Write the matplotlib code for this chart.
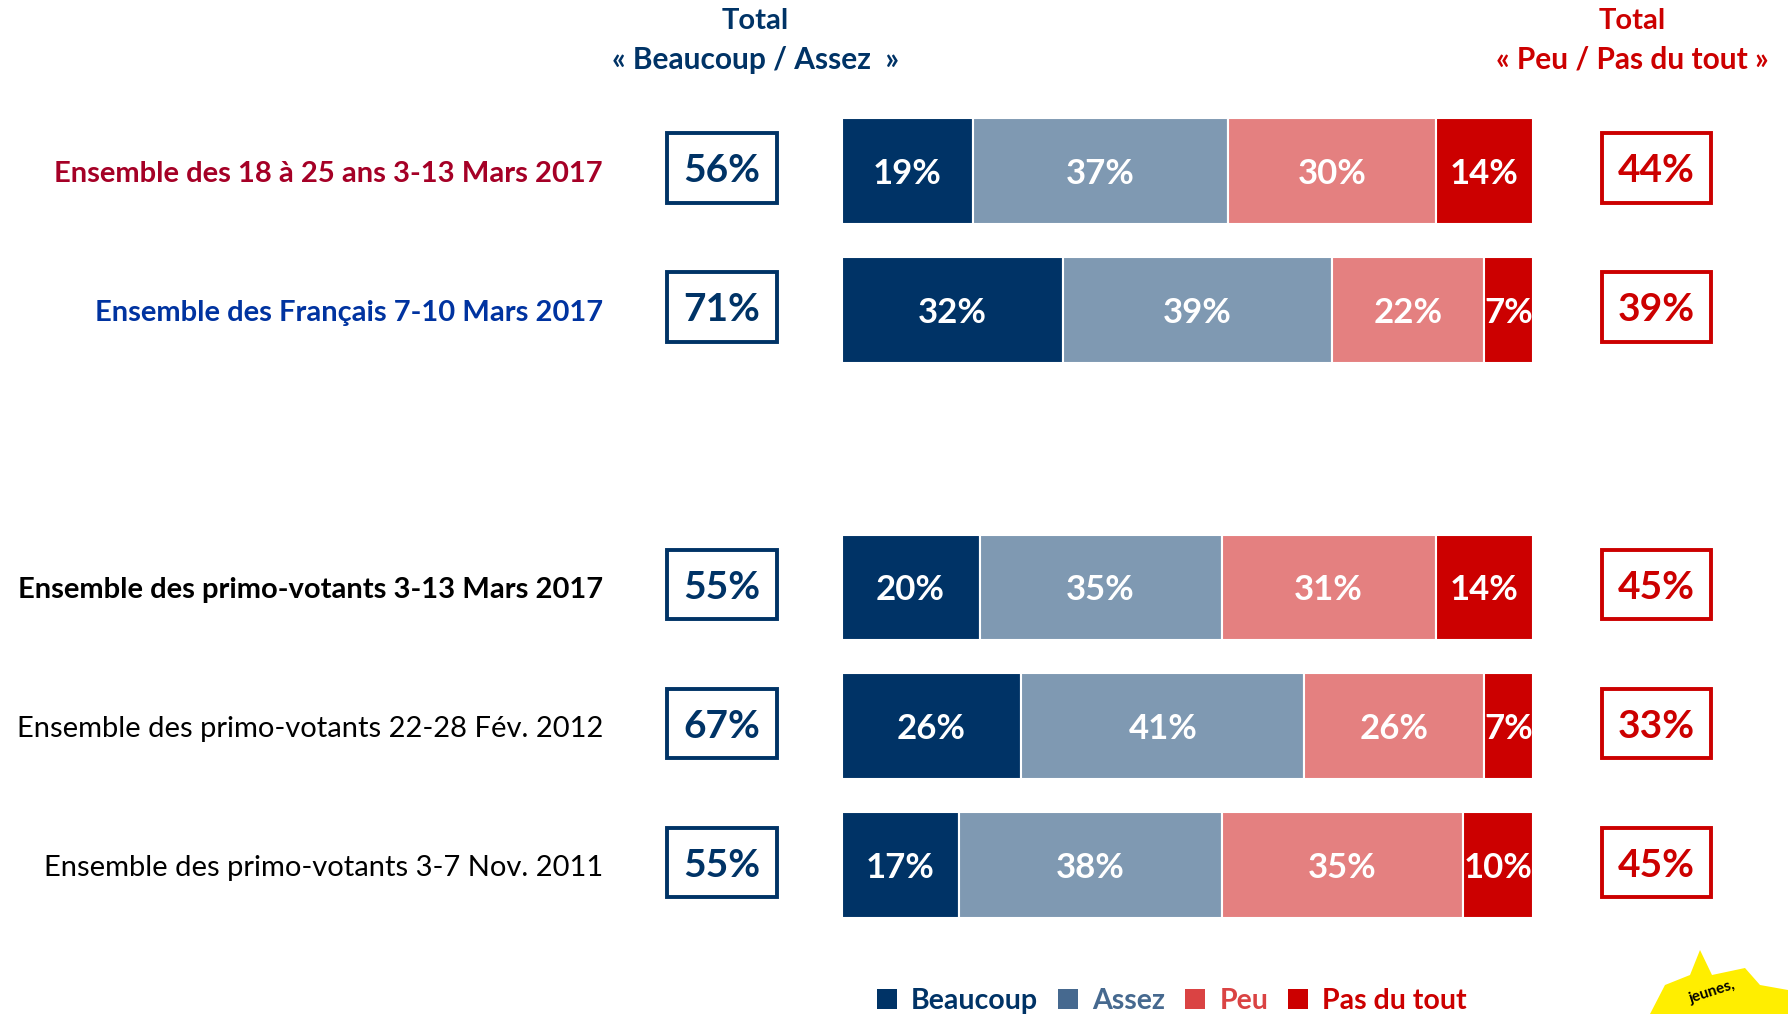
import matplotlib
matplotlib.use('Agg')
import matplotlib.pyplot as plt
from matplotlib.patches import Rectangle, Patch, Polygon

# Data
rows = ['Ensemble des 18 à 25 ans 3-13 Mars 2017',
        'Ensemble des Français 7-10 Mars 2017',
        'Ensemble des primo-votants 3-13 Mars 2017',
        'Ensemble des primo-votants 22-28 Fév. 2012',
        'Ensemble des primo-votants 3-7 Nov. 2011']
row_pos = [0, 1, 3, 4, 5]
beaucoup = [19, 32, 20, 26, 17]
assez = [37, 39, 35, 41, 38]
peu = [30, 22, 31, 26, 35]
pas_du_tout = [14, 7, 14, 7, 10]
total_pos = [56, 71, 55, 67, 55]
total_neg = [44, 39, 45, 33, 45]

series = ['Beaucoup', 'Assez', 'Peu', 'Pas du tout']
bar_colors = ['#003366', '#7f99b2', '#e48080', '#cc0000']
legend_colors = ['#003366', '#46698f', '#da4343', '#cc0000']
navy = '#003366'
red = '#cc0000'

row_colors = ['#a50026', '#0033a0', 'black', 'black', 'black']
row_weights = ['bold', 'bold', 'bold', 'normal', 'normal']

W, H = 1788, 1014
fig = plt.figure(figsize=(W / 100, H / 100), dpi=100)
fig.patch.set_facecolor('white')

# bar area in pixels
x0, x1 = 841.5, 1532.5
ytop, ybot = 101.5, 934.5
ax = fig.add_axes([x0 / W, 1 - ybot / H, (x1 - x0) / W, (ybot - ytop) / H])
ax.set_xlim(0, 100)
ax.set_ylim(5.5, -0.5)
ax.axis('off')

font = ['Lato', 'DejaVu Sans']

values = [beaucoup, assez, peu, pas_du_tout]
left = [0] * len(rows)
for vals, col in zip(values, bar_colors):
    bars = ax.barh(row_pos, vals, left=left, height=0.76, color=col,
                   edgecolor='white', linewidth=1.5)
    for b, v in zip(bars, vals):
        ax.text(b.get_x() + b.get_width() / 2, b.get_y() + b.get_height() / 2 + 0.02,
                f'{v}%', ha='center', va='center', color='white',
                fontsize=25, fontweight='bold', family=font)
    left = [l + v for l, v in zip(left, vals)]

# row labels
for y, lab, c, w in zip(row_pos, rows, row_colors, row_weights):
    ax.text(-34.5, y + 0.02, lab, ha='right', va='center', color=c,
            fontsize=21, fontweight=w, family=font, clip_on=False)

# total boxes
bw, bh = 15.8, 0.5
for y, tp, tn in zip(row_pos, total_pos, total_neg):
    for cx, val, col in [(-17.3, tp, navy), (117.9, tn, red)]:
        ax.add_patch(Rectangle((cx - bw / 2, y - 0.02 - bh / 2), bw, bh,
                               facecolor='white', edgecolor=col, linewidth=2.8,
                               clip_on=False))
        ax.text(cx, y, f'{val}%', ha='center', va='center', color=col,
                fontsize=28, fontweight='bold', family=font, clip_on=False)

# column headers
fig.text(755 / W, 1 - 21 / H, 'Total', ha='center', va='center', color=navy,
         fontsize=21, fontweight='bold', family=font)
fig.text(755 / W, 1 - 60 / H, '« Beaucoup / Assez  »', ha='center', va='center',
         color=navy, fontsize=21.5, fontweight='bold', family=font)
fig.text(1632 / W, 1 - 21 / H, 'Total', ha='center', va='center', color=red,
         fontsize=21, fontweight='bold', family=font)
fig.text(1632 / W, 1 - 59 / H, '« Peu / Pas du tout »', ha='center', va='center',
         color=red, fontsize=21.5, fontweight='bold', family=font)

# legend
handles = [Patch(facecolor=c, edgecolor='none') for c in legend_colors]
leg = fig.legend(handles, series, loc='center', bbox_to_anchor=(1172 / W, 1 - 1001 / H),
                 ncol=4, frameon=False, handlelength=0.7, handleheight=0.7,
                 handletextpad=0.5, columnspacing=0.7, borderpad=0.1,
                 prop={'family': font, 'size': 20.5, 'weight': 'bold'})
for t, c in zip(leg.get_texts(), legend_colors):
    t.set_color(c)

# logo corner (partially cut off)
logo = Polygon([(1650, 1014), (1665, 985), (1690, 975), (1700, 950), (1712, 975),
                (1745, 968), (1760, 985), (1788, 990), (1788, 1014)],
               closed=True, facecolor='#ffee00', edgecolor='none')
logo.set_transform(matplotlib.transforms.Affine2D().scale(1, -1).translate(0, H))
fig.add_artist(logo)
fig.text(1712 / W, 1 - 992 / H, 'jeunes,', ha='center', va='center', rotation=18,
         fontsize=11, fontweight='bold', family=font, color='black')

fig.savefig('out.png', dpi=100)
